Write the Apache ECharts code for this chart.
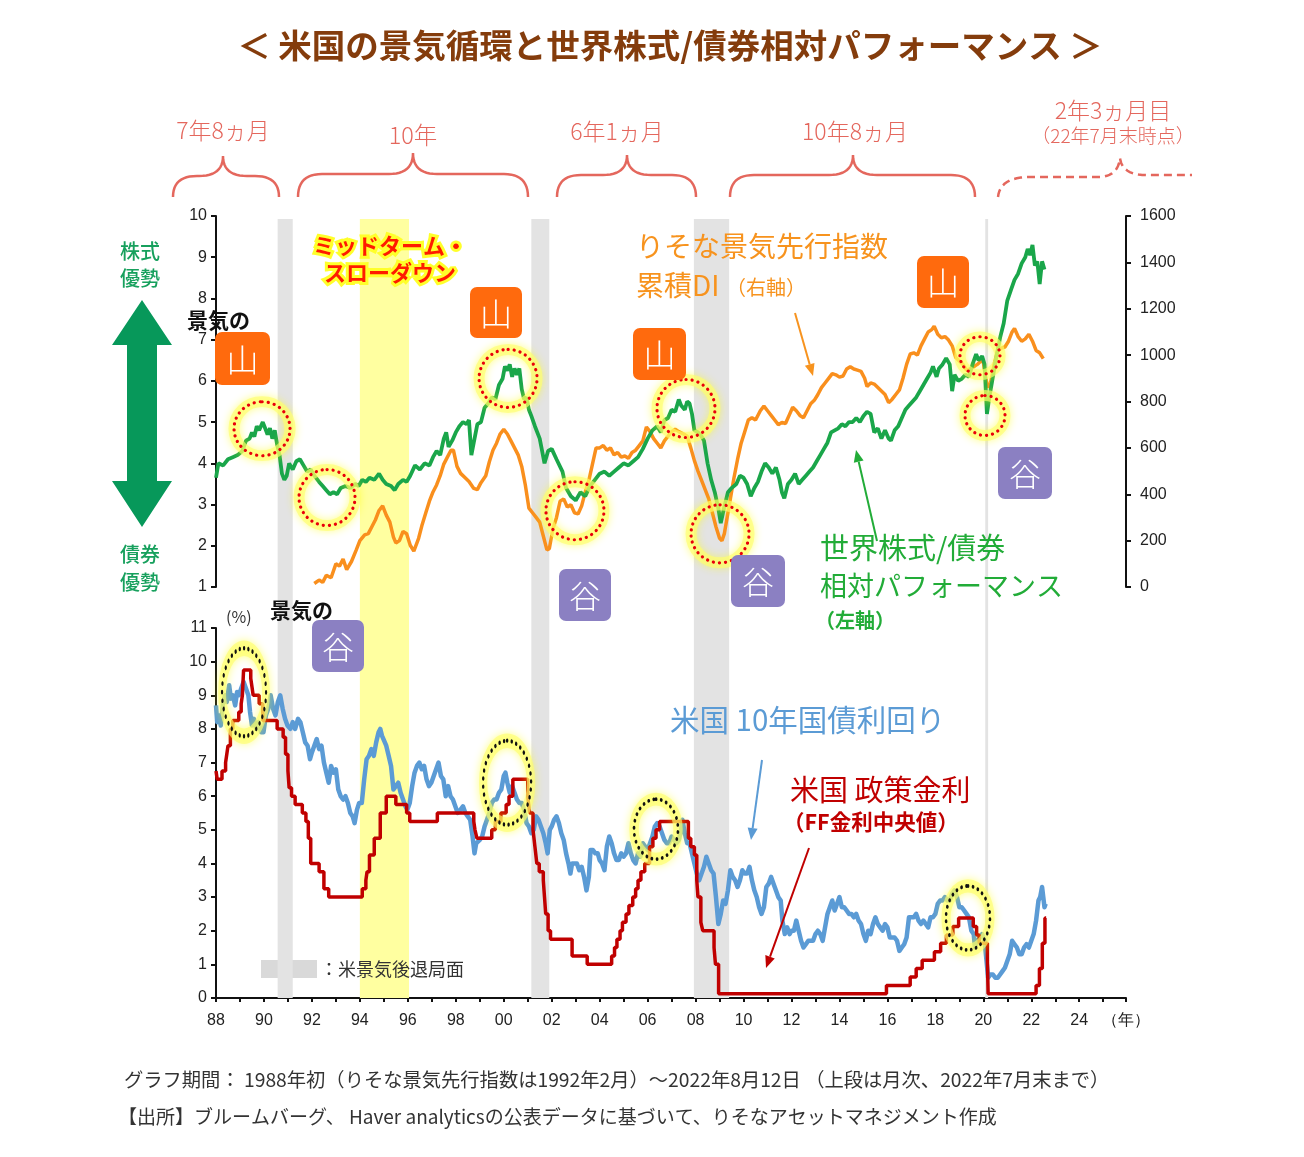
<!DOCTYPE html>
<html><head><meta charset="utf-8">
<script src="https://cdn.jsdelivr.net/npm/echarts/dist/echarts.min.js"></script>
<style>html,body{margin:0;padding:0;background:#fff}#c{width:1304px;height:1157px}</style>
</head><body><div id="c"></div><script>
// ---------- DATA ----------
const xMin = 1988, xMax = 2025.95;
const recessions = [[1990.57, 1991.2], [2001.15, 2001.9], [2007.93, 2009.4], [2020.08, 2020.2]];
const midtermBand = [1994.0, 1996.05];
const topLeftTicks = [1, 10, 1];      // min, max, interval
const topRightTicks = [0, 1600, 200];
const bottomTicks = [0, 11, 1];

// 世界株式/債券 相対パフォーマンス (left axis)
const greenData = [
[1988.0,3.65],[1988.1,4.0],[1988.3,3.95],[1988.5,4.1],[1988.7,4.15],[1988.9,4.2],[1989.1,4.3],[1989.25,4.55],[1989.4,4.6],[1989.5,4.75],[1989.6,4.65],[1989.7,4.9],[1989.8,4.8],[1989.95,5.0],
[1990.05,4.85],[1990.15,4.7],[1990.25,4.85],[1990.35,4.6],[1990.45,4.8],[1990.55,4.45],[1990.65,4.2],[1990.75,3.75],[1990.85,3.6],[1990.95,3.7],
[1991.05,4.0],[1991.2,3.85],[1991.35,4.05],[1991.5,4.1],[1991.65,3.95],[1991.8,3.8],[1991.95,3.85],
[1992.1,3.7],[1992.3,3.55],[1992.45,3.45],[1992.6,3.35],[1992.75,3.25],[1992.9,3.3],[1993.05,3.25],[1993.2,3.4],[1993.4,3.45],[1993.6,3.4],[1993.8,3.5],[1993.95,3.45],
[1994.1,3.6],[1994.25,3.55],[1994.4,3.65],[1994.6,3.6],[1994.8,3.75],[1994.95,3.6],[1995.1,3.5],[1995.3,3.45],[1995.45,3.35],[1995.6,3.5],[1995.8,3.6],[1995.95,3.55],
[1996.1,3.7],[1996.3,3.95],[1996.5,3.85],[1996.7,4.0],[1996.9,3.95],[1997.05,4.15],[1997.2,4.3],[1997.35,4.2],[1997.5,4.6],[1997.6,4.75],[1997.7,4.4],[1997.85,4.55],
[1998.0,4.75],[1998.15,4.9],[1998.3,5.0],[1998.45,4.95],[1998.55,5.05],[1998.65,4.2],[1998.75,4.5],[1998.9,4.95],[1999.05,5.0],[1999.2,5.35],[1999.35,5.45],[1999.5,5.6],[1999.65,5.55],[1999.8,5.9],[1999.95,6.05],
[2000.05,6.35],[2000.15,6.25],[2000.25,6.4],[2000.35,6.1],[2000.45,6.3],[2000.55,6.15],[2000.65,6.3],[2000.75,5.8],[2000.85,5.55],[2000.95,5.6],
[2001.05,5.3],[2001.15,5.15],[2001.3,4.9],[2001.5,4.6],[2001.7,4.0],[2001.85,4.3],[2002.0,4.35],[2002.2,4.1],[2002.45,3.8],[2002.6,3.4],[2002.8,3.2],[2003.0,3.1],[2003.2,3.3],[2003.4,3.2],[2003.6,3.45],[2003.8,3.6],
[2004.0,3.75],[2004.2,3.8],[2004.4,3.7],[2004.6,3.8],[2004.8,3.9],[2005.0,4.0],[2005.2,3.95],[2005.4,4.05],[2005.6,4.15],[2005.8,4.35],
[2006.0,4.6],[2006.2,4.8],[2006.4,4.9],[2006.55,4.75],[2006.7,5.05],[2006.85,5.1],[2007.0,5.3],[2007.15,5.25],[2007.3,5.55],[2007.4,5.4],[2007.55,5.3],[2007.65,5.5],[2007.75,5.45],[2007.85,5.2],[2007.95,4.8],
[2008.1,4.75],[2008.2,4.7],[2008.35,4.55],[2008.5,4.0],[2008.65,3.6],[2008.8,3.3],[2008.95,2.9],[2009.05,2.55],[2009.2,2.95],[2009.35,3.3],[2009.5,3.4],[2009.7,3.5],[2009.85,3.7],
[2010.0,3.65],[2010.15,3.5],[2010.3,3.2],[2010.45,3.4],[2010.6,3.55],[2010.75,3.8],[2010.9,4.0],[2011.05,3.9],[2011.2,3.75],[2011.35,3.9],[2011.5,3.6],[2011.6,3.3],[2011.7,3.15],[2011.85,3.5],
[2012.0,3.6],[2012.15,3.75],[2012.3,3.5],[2012.45,3.6],[2012.6,3.7],[2012.75,3.8],[2012.9,3.9],[2013.05,4.05],[2013.2,4.2],[2013.35,4.35],[2013.5,4.5],[2013.65,4.75],[2013.8,4.8],[2013.95,4.85],
[2014.1,4.95],[2014.25,4.9],[2014.4,5.0],[2014.55,5.0],[2014.7,5.1],[2014.85,5.0],[2015.0,5.15],[2015.15,5.25],[2015.3,5.2],[2015.45,4.75],[2015.6,4.85],[2015.75,4.6],[2015.9,4.8],
[2016.05,4.6],[2016.15,4.55],[2016.3,4.8],[2016.45,4.9],[2016.6,5.1],[2016.75,5.3],[2016.9,5.4],[2017.05,5.5],[2017.2,5.6],[2017.35,5.75],[2017.5,5.9],[2017.65,6.05],[2017.8,6.2],[2017.9,6.35],
[2018.05,6.1],[2018.15,6.3],[2018.3,6.4],[2018.45,6.55],[2018.6,6.4],[2018.7,5.75],[2018.8,6.15],[2018.95,6.0],[2019.1,6.05],[2019.25,6.15],[2019.4,6.1],[2019.55,6.4],[2019.7,6.65],[2019.8,6.5],[2019.95,6.6],
[2020.05,6.4],[2020.15,5.2],[2020.25,5.6],[2020.4,6.1],[2020.55,6.6],[2020.7,7.05],[2020.85,7.4],[2021.0,7.95],[2021.15,8.2],[2021.3,8.45],[2021.45,8.6],[2021.6,8.85],[2021.75,9.0],[2021.85,9.2],[2021.95,9.05],
[2022.05,9.3],[2022.15,8.8],[2022.25,8.9],[2022.35,8.35],[2022.45,8.9],[2022.55,8.7]
];

// りそな景気先行指数 累積DI (right axis)
const orangeData = [
[1992.1,15],[1992.3,30],[1992.45,20],[1992.6,50],[1992.8,40],[1993.0,100],[1993.15,90],[1993.3,120],[1993.45,75],[1993.65,110],[1993.85,160],
[1994.0,200],[1994.2,225],[1994.35,230],[1994.5,260],[1994.65,290],[1994.8,330],[1994.95,350],[1995.1,310],[1995.25,280],[1995.4,215],[1995.5,190],[1995.65,200],[1995.8,240],[1995.95,230],
[1996.1,180],[1996.25,155],[1996.45,210],[1996.6,270],[1996.75,320],[1996.9,370],[1997.05,410],[1997.2,440],[1997.35,480],[1997.5,530],[1997.65,560],[1997.8,590],[1997.9,590],
[1998.05,520],[1998.2,490],[1998.4,470],[1998.55,455],[1998.75,425],[1998.9,420],[1999.05,450],[1999.25,480],[1999.4,540],[1999.55,590],[1999.7,620],[1999.85,660],
[2000.0,680],[2000.15,660],[2000.3,630],[2000.45,600],[2000.6,570],[2000.75,520],[2000.9,440],[2001.05,340],[2001.2,320],[2001.35,300],[2001.5,280],[2001.65,220],[2001.8,160],[2001.9,165],
[2002.05,250],[2002.2,300],[2002.35,370],[2002.5,380],[2002.65,345],[2002.8,355],[2002.95,320],[2003.1,315],[2003.25,350],[2003.4,410],[2003.55,460],[2003.7,530],[2003.85,600],
[2004.0,600],[2004.15,610],[2004.3,590],[2004.45,600],[2004.6,570],[2004.75,580],[2004.9,560],[2005.05,565],[2005.2,555],[2005.35,580],[2005.5,590],[2005.65,610],[2005.8,630],[2005.95,690],
[2006.1,670],[2006.25,640],[2006.4,620],[2006.55,600],[2006.7,630],[2006.85,650],[2007.0,670],[2007.15,680],[2007.3,670],[2007.5,660],[2007.65,650],[2007.8,600],[2007.95,545],
[2008.1,500],[2008.25,460],[2008.4,420],[2008.55,380],[2008.7,320],[2008.85,260],[2009.0,210],[2009.1,200],[2009.2,230],[2009.3,290],[2009.45,380],[2009.6,470],[2009.75,550],[2009.9,620],
[2010.05,670],[2010.2,720],[2010.35,730],[2010.5,720],[2010.7,760],[2010.85,780],[2011.0,760],[2011.15,740],[2011.3,720],[2011.45,700],[2011.6,710],[2011.75,705],[2011.9,740],
[2012.05,775],[2012.2,760],[2012.35,740],[2012.5,730],[2012.65,760],[2012.8,790],[2012.95,805],[2013.1,830],[2013.25,860],[2013.4,880],[2013.55,900],[2013.7,920],[2013.85,915],
[2014.0,905],[2014.15,910],[2014.3,940],[2014.45,950],[2014.6,940],[2014.75,935],[2014.9,930],[2015.05,900],[2015.15,865],[2015.3,880],[2015.45,875],[2015.6,860],[2015.75,845],[2015.9,830],
[2016.05,795],[2016.2,810],[2016.35,830],[2016.5,850],[2016.65,900],[2016.8,960],[2016.95,1005],[2017.1,1010],[2017.25,1000],[2017.4,1040],[2017.55,1070],[2017.7,1100],[2017.85,1110],[2017.95,1125],
[2018.1,1090],[2018.25,1075],[2018.4,1080],[2018.55,1065],[2018.7,1040],[2018.85,990],[2019.0,975],[2019.15,960],[2019.3,935],[2019.45,940],[2019.6,950],[2019.75,960],[2019.9,975],
[2020.0,970],[2020.1,900],[2020.2,860],[2020.3,880],[2020.45,960],[2020.6,1020],[2020.75,1030],[2020.9,1035],[2021.05,1060],[2021.2,1100],[2021.3,1115],[2021.45,1080],[2021.6,1060],[2021.75,1070],[2021.9,1090],
[2022.05,1060],[2022.2,1020],[2022.35,1010],[2022.5,985]
];

// 米国 10年国債利回り (%)
const blueData = [
[1988.0,8.7],[1988.05,8.2],[1988.12,8.4],[1988.2,8.1],[1988.3,8.8],[1988.38,9.0],[1988.45,8.8],[1988.55,9.3],[1988.62,8.9],[1988.7,9.0],[1988.8,8.7],[1988.88,9.1],[1988.95,9.0],
[1989.05,9.2],[1989.15,9.4],[1989.25,9.2],[1989.35,9.0],[1989.42,8.5],[1989.5,8.1],[1989.58,8.3],[1989.68,8.0],[1989.78,8.2],[1989.88,7.9],[1989.98,7.9],
[1990.08,8.4],[1990.18,8.6],[1990.28,9.0],[1990.38,8.6],[1990.48,8.4],[1990.58,8.8],[1990.68,9.0],[1990.78,8.6],[1990.88,8.3],[1990.98,8.1],
[1991.1,8.0],[1991.2,8.2],[1991.3,8.0],[1991.42,8.3],[1991.52,8.2],[1991.62,7.9],[1991.72,7.6],[1991.82,7.5],[1991.92,7.1],
[1992.0,7.3],[1992.1,7.5],[1992.2,7.7],[1992.3,7.4],[1992.4,7.5],[1992.5,7.0],[1992.6,6.7],[1992.7,6.4],[1992.8,6.9],[1992.9,6.7],
[1993.0,6.8],[1993.1,6.2],[1993.2,6.0],[1993.3,5.9],[1993.4,6.0],[1993.5,5.8],[1993.6,5.5],[1993.7,5.4],[1993.78,5.2],[1993.88,5.6],[1993.97,5.8],
[1994.08,5.8],[1994.18,6.5],[1994.28,7.1],[1994.38,7.2],[1994.48,7.4],[1994.58,7.2],[1994.68,7.6],[1994.78,7.9],[1994.85,8.0],[1994.92,7.8],
[1995.0,7.8],[1995.1,7.5],[1995.2,7.2],[1995.3,6.9],[1995.4,6.2],[1995.5,6.3],[1995.6,6.4],[1995.7,6.1],[1995.8,5.9],[1995.9,5.7],[1995.98,5.6],
[1996.08,5.8],[1996.18,6.3],[1996.28,6.7],[1996.38,6.9],[1996.48,7.0],[1996.58,6.8],[1996.68,6.9],[1996.78,6.5],[1996.88,6.3],[1996.98,6.4],
[1997.08,6.6],[1997.18,6.8],[1997.28,7.0],[1997.38,6.6],[1997.48,6.5],[1997.58,6.0],[1997.68,6.3],[1997.78,6.0],[1997.88,5.9],[1997.98,5.7],
[1998.08,5.5],[1998.2,5.6],[1998.3,5.7],[1998.4,5.5],[1998.5,5.4],[1998.6,5.3],[1998.7,4.8],[1998.78,4.3],[1998.85,4.6],[1998.92,4.6],
[1999.0,4.7],[1999.1,4.8],[1999.2,5.1],[1999.3,5.3],[1999.4,5.5],[1999.5,5.8],[1999.6,5.9],[1999.7,5.9],[1999.8,6.1],[1999.9,6.2],
[2000.0,6.6],[2000.07,6.7],[2000.15,6.4],[2000.25,6.1],[2000.35,6.3],[2000.45,6.1],[2000.55,5.9],[2000.65,5.8],[2000.75,5.8],[2000.85,5.6],[2000.95,5.2],
[2001.05,5.1],[2001.15,4.9],[2001.25,5.0],[2001.35,5.4],[2001.45,5.3],[2001.55,5.1],[2001.65,4.9],[2001.75,4.6],[2001.83,4.3],[2001.92,5.0],
[2002.0,5.1],[2002.1,5.3],[2002.2,5.4],[2002.3,5.2],[2002.4,4.9],[2002.5,4.7],[2002.6,4.3],[2002.7,4.0],[2002.78,3.7],[2002.85,4.0],[2002.95,4.0],
[2003.05,4.0],[2003.15,3.8],[2003.25,3.9],[2003.35,3.6],[2003.45,3.2],[2003.55,3.6],[2003.62,4.4],[2003.72,4.4],[2003.82,4.3],[2003.92,4.3],
[2004.0,4.1],[2004.1,4.0],[2004.2,3.8],[2004.3,4.5],[2004.4,4.8],[2004.5,4.6],[2004.6,4.3],[2004.7,4.1],[2004.8,4.1],[2004.9,4.3],
[2005.0,4.2],[2005.1,4.3],[2005.2,4.6],[2005.3,4.3],[2005.4,4.1],[2005.5,4.0],[2005.6,4.3],[2005.7,4.2],[2005.8,4.6],[2005.9,4.5],
[2006.0,4.4],[2006.1,4.6],[2006.2,4.8],[2006.3,5.1],[2006.4,5.2],[2006.5,5.1],[2006.6,4.9],[2006.7,4.7],[2006.8,4.6],[2006.9,4.6],
[2007.0,4.8],[2007.1,4.7],[2007.2,4.6],[2007.3,4.7],[2007.4,5.0],[2007.45,5.3],[2007.55,4.9],[2007.65,4.6],[2007.75,4.6],[2007.85,4.3],[2007.95,4.0],
[2008.05,3.7],[2008.15,3.5],[2008.25,3.7],[2008.35,3.9],[2008.45,4.2],[2008.55,4.0],[2008.65,3.8],[2008.75,3.7],[2008.85,3.0],[2008.95,2.2],
[2009.05,2.5],[2009.15,2.9],[2009.25,2.8],[2009.35,3.2],[2009.45,3.8],[2009.55,3.6],[2009.65,3.5],[2009.75,3.3],[2009.85,3.5],[2009.95,3.8],
[2010.05,3.7],[2010.15,3.7],[2010.25,3.9],[2010.35,3.5],[2010.45,3.2],[2010.55,3.0],[2010.65,2.7],[2010.75,2.5],[2010.85,2.7],[2010.95,3.3],
[2011.05,3.4],[2011.15,3.6],[2011.25,3.4],[2011.35,3.2],[2011.45,3.0],[2011.55,2.9],[2011.62,2.3],[2011.72,1.9],[2011.82,2.1],[2011.92,1.9],
[2012.0,2.0],[2012.1,2.0],[2012.2,2.3],[2012.3,2.0],[2012.4,1.7],[2012.5,1.5],[2012.6,1.6],[2012.7,1.7],[2012.8,1.7],[2012.9,1.7],
[2013.0,1.9],[2013.1,2.0],[2013.2,1.9],[2013.3,1.7],[2013.4,2.1],[2013.5,2.5],[2013.6,2.7],[2013.7,2.9],[2013.8,2.6],[2013.9,2.8],
[2014.0,3.0],[2014.1,2.7],[2014.2,2.7],[2014.3,2.6],[2014.4,2.5],[2014.5,2.5],[2014.6,2.4],[2014.7,2.5],[2014.8,2.3],[2014.9,2.2],
[2015.0,1.9],[2015.1,1.7],[2015.2,2.0],[2015.3,1.9],[2015.4,2.2],[2015.5,2.4],[2015.6,2.2],[2015.7,2.1],[2015.8,2.0],[2015.9,2.2],
[2016.0,2.1],[2016.1,1.8],[2016.2,1.8],[2016.3,1.8],[2016.4,1.7],[2016.5,1.4],[2016.6,1.5],[2016.7,1.6],[2016.8,1.8],[2016.9,2.4],
[2017.0,2.4],[2017.1,2.4],[2017.2,2.5],[2017.3,2.3],[2017.4,2.2],[2017.5,2.3],[2017.6,2.2],[2017.7,2.1],[2017.8,2.4],[2017.9,2.4],
[2018.0,2.5],[2018.1,2.8],[2018.2,2.9],[2018.3,2.9],[2018.4,3.0],[2018.5,2.9],[2018.6,2.9],[2018.7,3.1],[2018.8,3.2],[2018.9,3.0],
[2019.0,2.7],[2019.1,2.7],[2019.2,2.6],[2019.3,2.5],[2019.4,2.4],[2019.5,2.0],[2019.6,1.9],[2019.65,1.5],[2019.75,1.7],[2019.85,1.8],[2019.95,1.9],
[2020.05,1.7],[2020.12,1.2],[2020.2,0.6],[2020.3,0.7],[2020.4,0.7],[2020.5,0.6],[2020.6,0.6],[2020.7,0.7],[2020.8,0.8],[2020.9,0.9],
[2021.0,1.1],[2021.1,1.3],[2021.2,1.7],[2021.3,1.6],[2021.4,1.5],[2021.5,1.3],[2021.6,1.3],[2021.7,1.5],[2021.8,1.6],[2021.9,1.5],
[2022.0,1.7],[2022.1,1.9],[2022.2,2.3],[2022.3,2.9],[2022.37,3.0],[2022.45,3.3],[2022.5,3.0],[2022.55,2.7],[2022.6,2.8]
];

// 米国 政策金利 (FF金利中央値), change points
const redData = [
[1988.0,6.75],[1988.05,6.5],[1988.25,6.75],[1988.4,7.0],[1988.45,7.25],[1988.5,7.5],[1988.6,8.0],[1988.7,8.25],[1988.95,8.5],[1989.05,8.75],[1989.1,9.0],[1989.15,9.75],
[1989.45,9.5],[1989.5,9.25],[1989.55,9.0],[1989.8,8.75],[1989.95,8.25],[1990.55,8.0],[1990.8,7.75],[1990.9,7.25],[1991.0,6.75],[1991.05,6.25],[1991.15,6.0],[1991.3,5.75],
[1991.6,5.5],[1991.75,5.25],[1991.85,4.75],[1991.95,4.0],[1992.3,3.75],[1992.5,3.25],[1992.7,3.0],[1994.1,3.25],[1994.25,3.5],[1994.3,3.75],[1994.4,4.25],[1994.6,4.75],
[1994.85,5.5],[1995.1,6.0],[1995.5,5.75],[1995.95,5.5],[1996.08,5.25],[1997.23,5.5],[1998.75,5.25],[1998.8,5.0],[1998.88,4.75],[1999.5,5.0],[1999.65,5.25],[1999.88,5.5],
[2000.1,5.75],[2000.22,6.0],[2000.38,6.5],[2001.0,6.0],[2001.08,5.5],[2001.22,5.0],[2001.3,4.5],[2001.38,4.0],[2001.48,3.75],[2001.65,3.5],[2001.7,3.0],[2001.75,2.5],
[2001.85,2.0],[2001.95,1.75],[2002.85,1.25],[2003.48,1.0],[2004.5,1.25],[2004.62,1.5],[2004.72,1.75],[2004.85,2.0],[2004.95,2.25],[2005.1,2.5],[2005.22,2.75],[2005.38,3.0],
[2005.5,3.25],[2005.6,3.5],[2005.72,3.75],[2005.88,4.0],[2006.08,4.5],[2006.22,4.75],[2006.35,5.0],[2006.5,5.25],[2007.7,4.75],[2007.8,4.5],[2007.95,4.25],[2008.05,3.5],
[2008.1,3.0],[2008.22,2.25],[2008.3,2.0],[2008.77,1.5],[2008.83,1.0],[2008.96,0.125],[2015.96,0.375],[2016.95,0.625],[2017.2,0.875],[2017.45,1.125],[2017.96,1.375],
[2018.22,1.625],[2018.46,1.875],[2018.73,2.125],[2018.97,2.375],[2019.58,2.125],[2019.72,1.875],[2019.83,1.625],[2020.17,1.125],[2020.2,0.125],[2022.2,0.375],
[2022.34,0.875],[2022.46,1.625],[2022.57,2.375],[2022.62,2.375]
];

// ---------- annotation anchors (data coordinates) ----------
const topCircles = [[1989.92,4.84],[1992.63,3.17],[2000.18,6.06],[2002.97,2.85],[2007.6,5.33],[2009.02,2.29],[2019.86,6.61],[2020.07,5.16]];
const topCircleSizes = [[56,54],[56,56],[58,58],[58,58],[58,58],[58,58],[40,38],[40,40]];
const bottomEllipses = [[1989.17,9.09],[2000.14,6.4],[2006.35,5.02],[2019.36,2.38]];
const bottomEllipseSizes = [[44,88],[48,84],[44,60],[44,64]];

// ---------- build ----------
const ELL = 'path://M50,0C77.6,0 100,22.4 100,50C100,77.6 77.6,100 50,100C22.4,100 0,77.6 0,50C0,22.4 22.4,0 50,0Z';
function rings(points, sizes, dotColor) {
  const out = [];
  points.forEach((p, i) => {
    out.push({coord: p, symbol: ELL, symbolSize: sizes[i],
      itemStyle: {color: 'rgba(0,0,0,0)', borderColor: 'rgba(255,255,110,0.65)', borderWidth: 11, shadowBlur: 8, shadowColor: 'rgba(255,255,0,0.7)'}});
    out.push({coord: p, symbol: ELL, symbolSize: sizes[i],
      itemStyle: {color: 'rgba(0,0,0,0)', borderColor: dotColor, borderWidth: 3.2, borderType: [0.1, 6], borderCap: 'round'}});
  });
  return out;
}

const JP = '"Noto Sans CJK JP"';
const G = [];
function T(x, y, text, size, color, o) {
  o = o || {};
  const st = {text: text, fill: color, font: (o.w || 'normal') + ' ' + size + 'px ' + (o.f || JP),
    align: o.a || 'left', textAlign: o.a || 'left', verticalAlign: 'middle', textVerticalAlign: 'middle'};
  if (o.stroke) { st.stroke = o.stroke; st.lineWidth = o.lw; st.strokeFirst = true; }
  G.push({type: 'text', x: x, y: y, z: 100, silent: true, style: st});
}
function B(x, y, w, h, color, ch) {
  G.push({type: 'rect', z: 90, silent: true, shape: {x: x, y: y, width: w, height: h, r: 7}, style: {fill: color}});
  T(x + w / 2, y + h / 2 + 1, ch, 32, '#fff', {a: 'center', w: '300'});
}
function A(x1, y1, x2, y2, color) {
  const ang = Math.atan2(y2 - y1, x2 - x1), L = 12, W = 5;
  const bx = x2 - L * Math.cos(ang), by = y2 - L * Math.sin(ang);
  G.push({type: 'line', z: 95, silent: true, shape: {x1: x1, y1: y1, x2: bx, y2: by}, style: {stroke: color, lineWidth: 2}});
  G.push({type: 'polygon', z: 95, silent: true, shape: {points: [[x2, y2], [bx + W * Math.sin(ang), by - W * Math.cos(ang)], [bx - W * Math.sin(ang), by + W * Math.cos(ang)]]}, style: {fill: color}});
}
// quadratic segment sampler for brace outlines
function quad(p0, c, p1, pts) {
  for (let i = 1; i <= 12; i++) {
    const t = i / 12, u = 1 - t;
    pts.push([u * u * p0[0] + 2 * u * t * c[0] + t * t * p1[0], u * u * p0[1] + 2 * u * t * c[1] + t * t * p1[1]]);
  }
}
const SAL = '#e4675d';
function Br(x1, xm, x2, yt, ym, yb) {
  const w = 24, pts = [[x1, yb]];
  quad([x1, yb], [x1, ym], [x1 + w, ym], pts);
  pts.push([xm - w, ym]);
  quad([xm - w, ym], [xm, ym], [xm, yt], pts);
  quad([xm, yt], [xm, ym], [xm + w, ym], pts);
  pts.push([x2 - w, ym]);
  quad([x2 - w, ym], [x2, ym], [x2, yb], pts);
  G.push({type: 'polyline', silent: true, shape: {points: pts}, style: {stroke: SAL, fill: null, lineWidth: 2.5}});
}
// title
T(670, 45, '＜ 米国の景気循環と世界株式/債券相対パフォーマンス ＞', 33.5, '#843c0c', {a: 'center', w: 'bold'});
// periods
T(223, 130, '7年8ヵ月', 23, SAL, {a: 'center', w: '300'});
T(413, 135, '10年', 23.5, SAL, {a: 'center', w: '300'});
T(617, 131, '6年1ヵ月', 23, SAL, {a: 'center', w: '300'});
T(855, 131, '10年8ヵ月', 23, SAL, {a: 'center', w: '300'});
T(1113, 110, '2年3ヵ月目', 23, SAL, {a: 'center', w: '300'});
T(1113, 136, '（22年7月末時点）', 19, SAL, {a: 'center', w: '300'});
Br(173, 223, 279, 156, 176, 197);
Br(298, 413, 528, 153, 174, 197);
Br(557, 627, 696, 155, 175, 197);
Br(730, 853, 975, 155, 175, 197);
(function () {
  const pts = [[998, 197]];
  quad([998, 197], [1000, 177], [1030, 177], pts);
  pts.push([1098, 177]);
  quad([1098, 177], [1118, 177], [1120, 158], pts);
  quad([1120, 158], [1122, 175], [1146, 175], pts);
  pts.push([1192, 175]);
  G.push({type: 'polyline', silent: true, shape: {points: pts}, style: {stroke: SAL, fill: null, lineWidth: 2.5, lineDash: [8, 5]}});
})();
// left arrow and labels
const GR = '#17a05d';
T(140, 251, '株式', 20, GR, {a: 'center', w: '500'});
T(140, 278, '優勢', 20, GR, {a: 'center', w: '500'});
T(140, 554, '債券', 20, GR, {a: 'center', w: '500'});
T(140, 582, '優勢', 20, GR, {a: 'center', w: '500'});
G.push({type: 'polygon', silent: true, shape: {points: [[142, 300], [172, 345], [157, 345], [157, 481], [172, 481], [142, 527], [112, 481], [127, 481], [127, 345], [112, 345]]}, style: {fill: '#07985a'}});
// 景気の / boxes
T(187, 320, '景気の', 21, '#111', {w: 'bold'});
T(226, 617, '(%)', 16, '#333');
T(270, 610, '景気の', 21, '#111', {w: 'bold'});
const OR = '#ff6a0d', PU = '#8b80c2';
B(215, 332, 55, 53, OR, '山');
B(470, 287, 52, 51, OR, '山');
B(633, 328, 53, 52, OR, '山');
B(917, 256, 52, 52, OR, '山');
B(312, 620, 52, 52, PU, '谷');
B(559, 569, 52, 52, PU, '谷');
B(731, 555, 54, 52, PU, '谷');
B(998, 447, 54, 52, PU, '谷');
// mid-term slowdown
T(390, 246, 'ミッドターム・', 22, '#ff1a00', {a: 'center', w: 'bold', stroke: '#ffff2a', lw: 6});
T(390, 273, 'スローダウン', 22, '#ff1a00', {a: 'center', w: 'bold', stroke: '#ffff2a', lw: 6});
// series labels
const OL = '#f7931e';
T(636, 246, 'りそな景気先行指数', 28, OL);
T(636, 285, '累積DI', 28, OL);
T(726, 287, '（右軸）', 20, OL);
A(795, 313, 813, 376, OL);
const GL = '#22ac38';
T(820, 548, '世界株式/債券', 29, GL);
T(820, 586, '相対パフォーマンス', 27, GL);
T(815, 620, '（左軸）', 20, GL, {w: 'bold'});
A(877, 541, 856, 450, GL);
const BL = '#5b9bd5';
T(670, 720, '米国 10年国債利回り', 29.5, BL);
A(762, 760, 751, 840, BL);
const RD = '#c00000';
T(790, 790, '米国 政策金利', 29, RD);
T(783, 822, '（FF金利中央値）', 21.5, RD, {w: 'bold'});
A(809, 848, 766, 968, RD);
// legend
G.push({type: 'rect', silent: true, shape: {x: 261, y: 960, width: 56, height: 18}, style: {fill: '#d9d9d9'}});
T(320, 969, '：米景気後退局面', 18, '#333');
// footer
T(124, 1080, 'グラフ期間： 1988年初（りそな景気先行指数は1992年2月）～2022年8月12日 （上段は月次、2022年7月末まで）', 19.3, '#333');
T(118, 1117, '【出所】ブルームバーグ、 Haver analyticsの公表データに基づいて、りそなアセットマネジメント作成', 19, '#333');

const AX = {color: '#111', width: 2};
const LBL = {fontSize: 16, color: '#222', fontFamily: 'Liberation Sans, Arial, sans-serif'};

const option = {
  animation: false,
  textStyle: {fontFamily: 'Liberation Sans, ' + JP},
  grid: [
    {left: 216, top: 216, width: 910, height: 371},
    {left: 216, top: 628, width: 910, height: 370},
    {left: 216, top: 219, width: 910, height: 779}
  ],
  xAxis: [
    {gridIndex: 0, type: 'value', min: xMin, max: xMax, show: false},
    {gridIndex: 1, type: 'value', min: xMin, max: xMax, interval: 1,
      axisLine: {lineStyle: AX}, axisTick: {length: 4, lineStyle: {width: 2, color: '#111'}}, splitLine: {show: false},
      axisLabel: Object.assign({margin: 15, formatter: function (v) {
        if (v > 2025.5) return '（年）';
        const y = Math.round(v);
        if (Math.abs(v - y) < 1e-6 && y % 2 === 0) return String(y).slice(2);
        return '';
      }}, LBL)},
    {gridIndex: 2, type: 'value', min: xMin, max: xMax, show: false}
  ],
  yAxis: [
    {gridIndex: 0, type: 'value', min: topLeftTicks[0], max: topLeftTicks[1], interval: topLeftTicks[2], position: 'left',
      axisLine: {show: true, lineStyle: AX}, axisTick: {show: true, length: 5, lineStyle: {width: 2, color: '#111'}}, splitLine: {show: false},
      axisLabel: Object.assign({margin: 9}, LBL)},
    {gridIndex: 0, type: 'value', min: topRightTicks[0], max: topRightTicks[1], interval: topRightTicks[2], position: 'right',
      axisLine: {show: true, lineStyle: AX}, axisTick: {show: true, length: 5, lineStyle: {width: 2, color: '#111'}}, splitLine: {show: false},
      axisLabel: Object.assign({margin: 14, formatter: function (v) { return String(v); }}, LBL)},
    {gridIndex: 1, type: 'value', min: bottomTicks[0], max: bottomTicks[1], interval: bottomTicks[2], position: 'left',
      axisLine: {show: true, lineStyle: AX}, axisTick: {show: true, length: 5, lineStyle: {width: 2, color: '#111'}}, splitLine: {show: false},
      axisLabel: Object.assign({margin: 9}, LBL)},
    {gridIndex: 2, type: 'value', min: 0, max: 1, show: false}
  ],
  series: [
    {type: 'line', xAxisIndex: 2, yAxisIndex: 3, data: [[xMin, 0]], symbol: 'none', silent: true, z: 0,
      lineStyle: {opacity: 0},
      markArea: {silent: true, data: recessions.map(r => [{xAxis: r[0], itemStyle: {color: '#e3e3e3'}}, {xAxis: r[1]}])
        .concat([[{xAxis: midtermBand[0], itemStyle: {color: '#ffffa0'}}, {xAxis: midtermBand[1]}]])}},
    {type: 'line', name: 'りそな景気先行指数累積DI', xAxisIndex: 0, yAxisIndex: 1, data: orangeData, showSymbol: false, symbol: 'none', z: 3,
      lineStyle: {color: '#f98f1d', width: 3.5}},
    {type: 'line', name: '世界株式/債券相対パフォーマンス', xAxisIndex: 0, yAxisIndex: 0, data: greenData, showSymbol: false, symbol: 'none', z: 4,
      lineStyle: {color: '#1aa64a', width: 3.8},
      markPoint: {silent: true, label: {show: false}, data: rings(topCircles, topCircleSizes, '#e8000b')}},
    {type: 'line', name: '米国10年国債利回り', xAxisIndex: 1, yAxisIndex: 2, data: blueData, showSymbol: false, symbol: 'none', z: 3,
      lineStyle: {color: '#5b9bd5', width: 4.5, join: 'round'},
      markPoint: {silent: true, label: {show: false}, data: rings(bottomEllipses, bottomEllipseSizes, '#111')}},
    {type: 'line', name: '米国政策金利', xAxisIndex: 1, yAxisIndex: 2, data: redData, step: 'end', showSymbol: false, symbol: 'none', z: 4,
      lineStyle: {color: '#c00000', width: 3.5}}
  ],
  graphic: {elements: G}
};
const chart = echarts.init(document.getElementById('c'), null, {renderer: 'canvas'});
chart.setOption(option);
</script></body></html>
